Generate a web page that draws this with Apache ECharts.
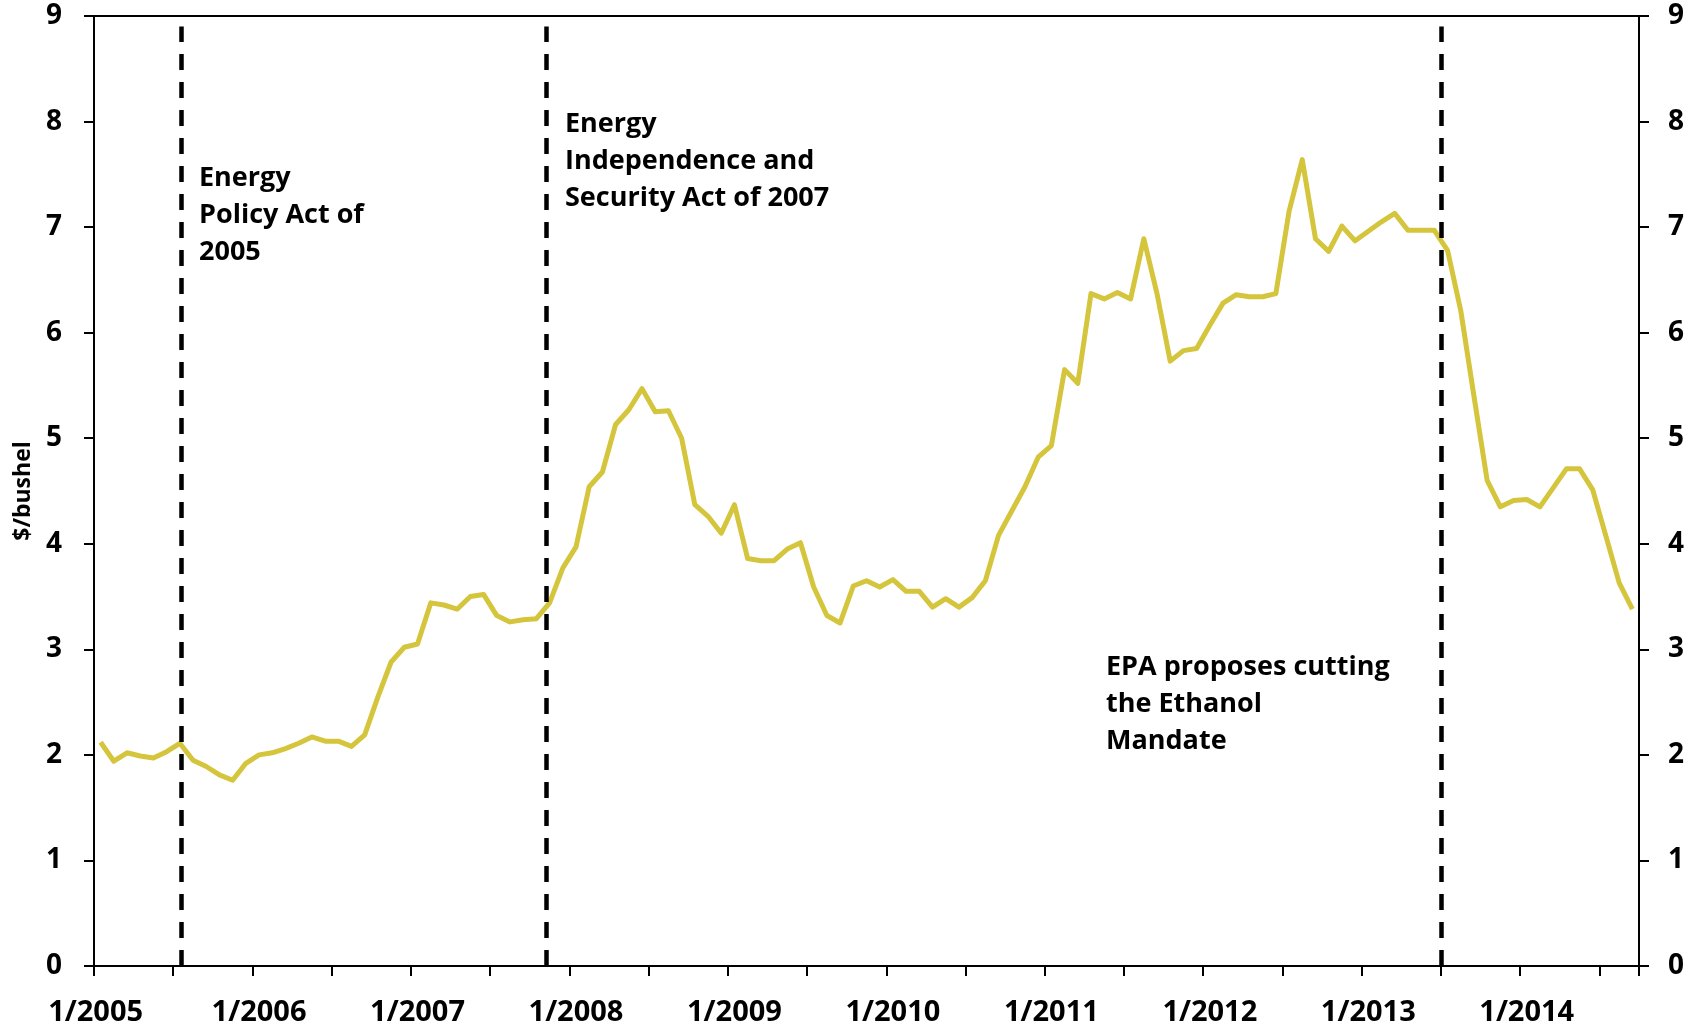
<!DOCTYPE html>
<html>
<head>
<meta charset="utf-8">
<title>Corn price</title>
<script src="https://cdn.jsdelivr.net/npm/echarts@6/dist/echarts.min.js"></script>
<style>
  html, body { margin: 0; padding: 0; background: #fff; }
  #chart { width: 1695px; height: 1027px; }
</style>
</head>
<body>
<div id="chart"></div>
<script>
// monthly price, 1/2005 .. 9/2014 ($/bushel)
const price = [
  2.12, 1.94, 2.02, 1.99, 1.97, 2.03, 2.11, 1.95, 1.89, 1.81, 1.76, 1.92,
  2.00, 2.02, 2.06, 2.11, 2.17, 2.13, 2.13, 2.08, 2.19, 2.55, 2.88, 3.02,
  3.05, 3.44, 3.42, 3.38, 3.50, 3.52, 3.32, 3.26, 3.28, 3.29, 3.44, 3.77,
  3.97, 4.54, 4.68, 5.13, 5.27, 5.47, 5.25, 5.26, 5.00, 4.37, 4.26, 4.10,
  4.37, 3.86, 3.84, 3.84, 3.95, 4.01, 3.59, 3.32, 3.25, 3.60, 3.65, 3.59,
  3.66, 3.55, 3.55, 3.40, 3.48, 3.40, 3.49, 3.65, 4.08, 4.31, 4.54, 4.82,
  4.93, 5.65, 5.52, 6.37, 6.32, 6.38, 6.32, 6.89, 6.37, 5.73, 5.83, 5.85,
  6.07, 6.28, 6.36, 6.34, 6.34, 6.37, 7.15, 7.64, 6.89, 6.77, 7.01, 6.87,
  6.96, 7.05, 7.13, 6.97, 6.97, 6.97, 6.78, 6.21, 5.40, 4.60, 4.35, 4.41,
  4.42, 4.35, 4.53, 4.71, 4.71, 4.51, 4.07, 3.63, 3.38
];

const startYear = 2005;
const months = [];
for (let i = 0; i < price.length; i++) {
  months.push((i % 12 + 1) + '/' + (startYear + Math.floor(i / 12)));
}

const yTicks = [0, 1, 2, 3, 4, 5, 6, 7, 8, 9];

// policy events, in months since 1/2005
const eventAt = [6.61, 34.28, 102.0];
const eventText = [
  ['Energy', 'Policy Act of', '2005'],
  ['Energy', 'Independence and', 'Security Act of 2007'],
  ['EPA proposes cutting', 'the Ethanol', 'Mandate']
];

const FONT = '"Open Sans", "Noto Sans", sans-serif';
const chart = echarts.init(document.getElementById('chart'), null, { renderer: 'canvas' });

const labelStyle = { color: '#000', fontFamily: FONT, fontWeight: 'bold', fontSize: 28 };
const axisLineStyle = { lineStyle: { color: '#000', width: 2 } };
const noteFont = 'bold 27px ' + FONT;

chart.setOption({
  animation: false,
  backgroundColor: '#fff',
  grid: {
    left: 94, right: 56, top: 16, bottom: 61,
    outerBoundsMode: 'none',
    containLabel: false,
    show: true, borderColor: '#000', borderWidth: 2, backgroundColor: 'transparent'
  },
  xAxis: [
    {
      type: 'category',
      data: months,
      boundaryGap: true,
      axisLine: axisLineStyle,
      axisTick: { show: true, interval: 5, length: 10, lineStyle: { color: '#000', width: 2 } },
      axisLabel: Object.assign({
        interval: 11,
        margin: 32,
        fontSize: 29,
        // first label sits a bit left of its month, like the original
        formatter: function (v, idx) {
          return idx === 0 ? '{first|' + v + '}' : v;
        },
        rich: {
          first: { color: '#000', fontFamily: FONT, fontWeight: 'bold', fontSize: 29, padding: [0, 10, 0, 0] }
        }
      }, { color: '#000', fontFamily: FONT, fontWeight: 'bold' }),
      splitLine: { show: false }
    },
    {
      type: 'value',
      min: 0,
      max: price.length,
      show: false
    }
  ],
  yAxis: [
    {
      type: 'value',
      min: yTicks[0],
      max: yTicks[yTicks.length - 1],
      interval: 1,
      position: 'left',
      name: '$/bushel',
      nameLocation: 'middle',
      nameGap: 52,
      nameRotate: 90,
      nameTextStyle: { color: '#000', fontFamily: FONT, fontWeight: 'bold', fontSize: 23 },
      axisLine: Object.assign({ show: true }, axisLineStyle),
      axisTick: { show: true, length: 10, lineStyle: { color: '#000', width: 2 } },
      axisLabel: Object.assign({ margin: 32 }, labelStyle),
      splitLine: { show: false }
    },
    {
      type: 'value',
      min: yTicks[0],
      max: yTicks[yTicks.length - 1],
      interval: 1,
      position: 'right',
      axisLine: Object.assign({ show: true }, axisLineStyle),
      axisTick: { show: true, length: 10, lineStyle: { color: '#000', width: 2 } },
      axisLabel: Object.assign({ margin: 29 }, labelStyle),
      splitLine: { show: false }
    }
  ],
  series: [
    {
      name: 'price',
      type: 'line',
      data: price,
      xAxisIndex: 0,
      yAxisIndex: 0,
      showSymbol: false,
      symbol: 'none',
      lineStyle: { color: '#d4c53c', width: 5, join: 'round' },
      z: 3
    },
    {
      name: 'events',
      type: 'line',
      data: [],
      xAxisIndex: 1,
      yAxisIndex: 0,
      silent: true,
      markLine: {
        silent: true,
        symbol: 'none',
        label: { show: false },
        lineStyle: { color: '#000', width: 4.5, type: [16, 12] },
        emphasis: { disabled: true },
        data: eventAt.map(function (m) {
          return [{ coord: [m, 0] }, { coord: [m, 8.9] }];
        })
      },
      z: 4
    }
  ],
  graphic: [
    { type: 'text', left: 199, top: 160, style: { text: eventText[0].join('\n'), font: noteFont, lineHeight: 37, fill: '#000' } },
    { type: 'text', left: 565, top: 106, style: { text: eventText[1].join('\n'), font: noteFont, lineHeight: 37, fill: '#000' } },
    { type: 'text', left: 1106, top: 649, style: { text: eventText[2].join('\n'), font: noteFont, lineHeight: 37, fill: '#000' } }
  ]
});
</script>
</body>
</html>
